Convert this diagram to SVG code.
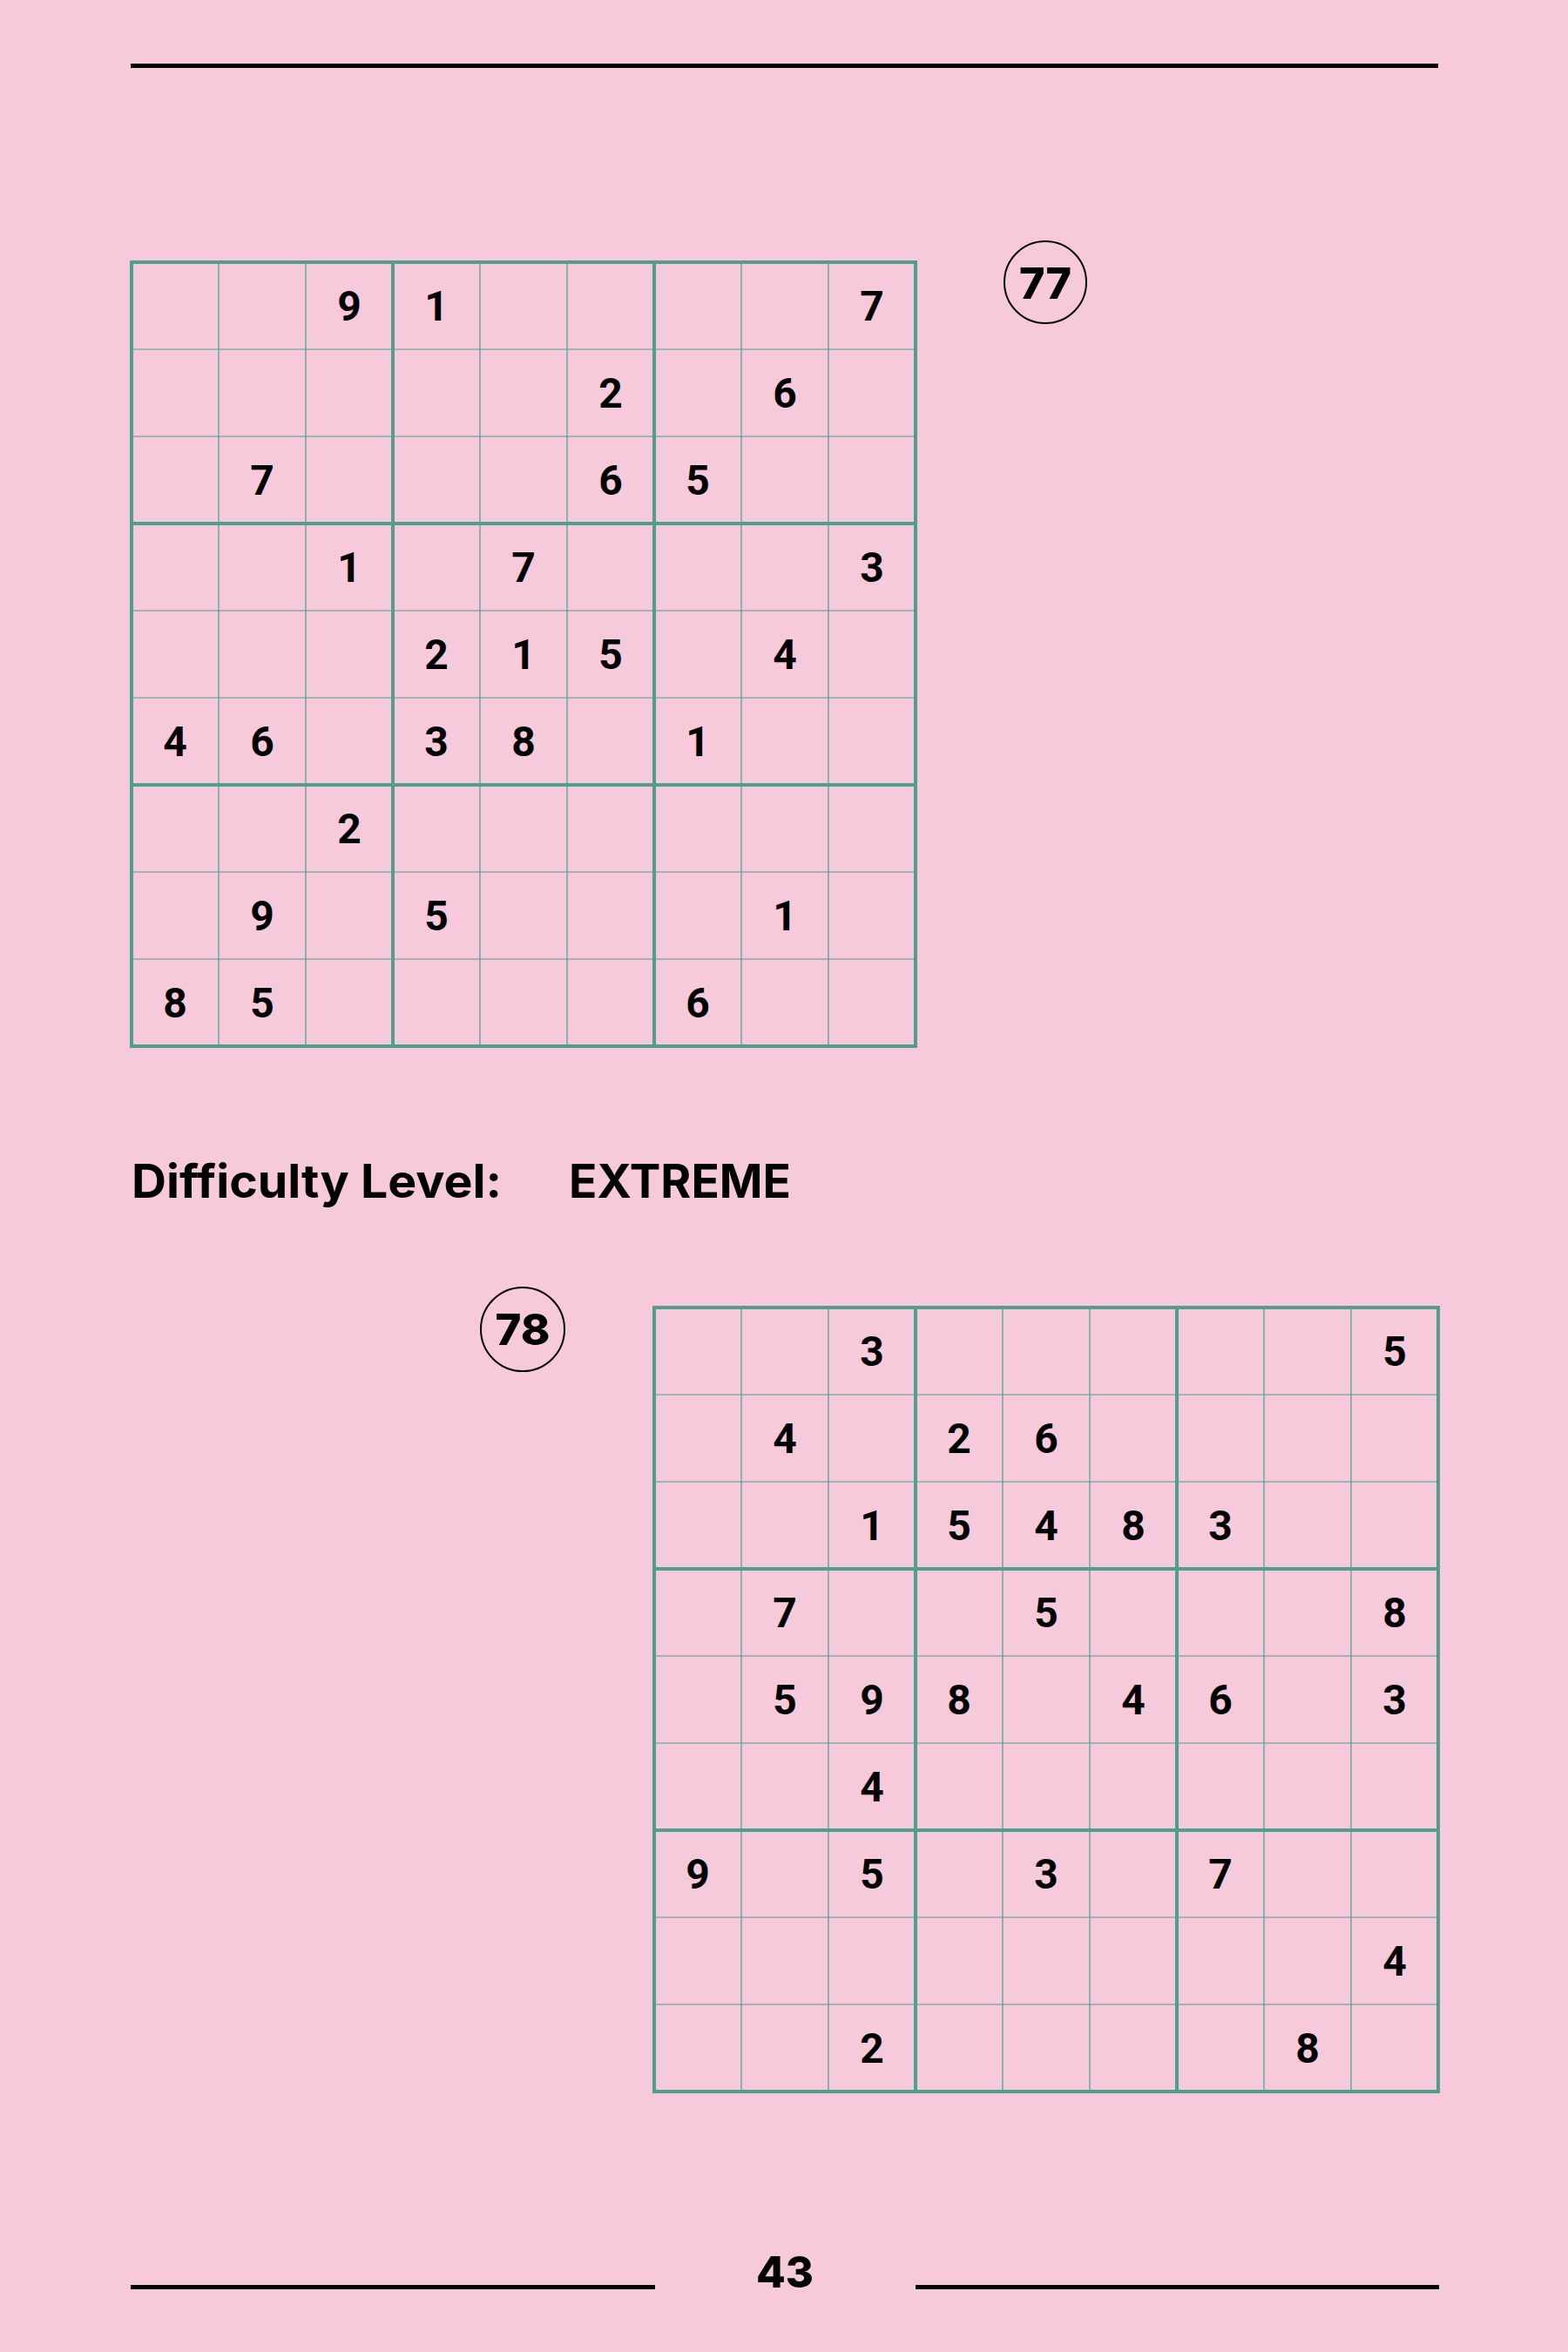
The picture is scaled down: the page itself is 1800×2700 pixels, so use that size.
<svg xmlns="http://www.w3.org/2000/svg" width="1800" height="2700" viewBox="0 0 1800 2700">
<style>
.bg{fill:#f7cadb}
.rule{stroke:#000;stroke-width:5}
.thin{stroke:#4f9e8e;stroke-width:1.2;fill:none}
.thick{stroke:#4f9e8e;stroke-width:4;fill:none}
.d{font-family:Roboto,"Liberation Sans",sans-serif;font-weight:700;font-size:48px;fill:#000;text-anchor:middle}
.h{font-family:Inter,"Liberation Sans",sans-serif;font-weight:700;fill:#000}
.num{font-family:Inter,"Liberation Sans",sans-serif;font-weight:800;font-size:50px;fill:#000;text-anchor:middle}
.ring{fill:none;stroke:#000;stroke-width:2}
</style>
<defs>
<g id="grid">
<path class="thin" d="M100 0V900M200 0V900M400 0V900M500 0V900M700 0V900M800 0V900M0 100H900M0 200H900M0 400H900M0 500H900M0 700H900M0 800H900"/>
<path class="thick" d="M300 0V900M600 0V900M0 300H900M0 600H900"/>
<rect class="thick" x="0" y="0" width="900" height="900"/>
</g>
</defs>
<rect class="bg" x="0" y="0" width="1800" height="2700"/>
<g id="header">
<line class="rule" x1="150" y1="75.5" x2="1651" y2="75.5"/>
</g>
<g id="puzzle77">
<use href="#grid" x="151" y="301"/>
<g id="digits77">
<text class="d" x="401" y="368">9</text><text class="d" x="501" y="368">1</text><text class="d" x="1001" y="368">7</text>
<text class="d" x="701" y="468">2</text><text class="d" x="901" y="468">6</text>
<text class="d" x="301" y="568">7</text><text class="d" x="701" y="568">6</text><text class="d" x="801" y="568">5</text>
<text class="d" x="401" y="668">1</text><text class="d" x="601" y="668">7</text><text class="d" x="1001" y="668">3</text>
<text class="d" x="501" y="768">2</text><text class="d" x="601" y="768">1</text><text class="d" x="701" y="768">5</text><text class="d" x="901" y="768">4</text>
<text class="d" x="201" y="868">4</text><text class="d" x="301" y="868">6</text><text class="d" x="501" y="868">3</text><text class="d" x="601" y="868">8</text><text class="d" x="801" y="868">1</text>
<text class="d" x="401" y="968">2</text>
<text class="d" x="301" y="1068">9</text><text class="d" x="501" y="1068">5</text><text class="d" x="901" y="1068">1</text>
<text class="d" x="201" y="1168">8</text><text class="d" x="301" y="1168">5</text><text class="d" x="801" y="1168">6</text>
</g>
</g>
<g id="label77">
<circle class="ring" cx="1200" cy="324" r="47"/>
<text class="num" x="1200" y="343" textLength="60" lengthAdjust="spacingAndGlyphs">77</text>
</g>
<g id="difficulty">
<text class="h" x="151" y="1375" font-size="53" textLength="425" lengthAdjust="spacingAndGlyphs">Difficulty Level:</text>
<text class="h" x="653" y="1375" font-size="53" textLength="255" lengthAdjust="spacingAndGlyphs">EXTREME</text>
</g>
<g id="label78">
<circle class="ring" cx="600" cy="1526" r="48"/>
<text class="num" x="600" y="1544" textLength="63" lengthAdjust="spacingAndGlyphs">78</text>
</g>
<g id="puzzle78">
<use href="#grid" x="751" y="1501"/>
<g id="digits78">
<text class="d" x="1001" y="1568">3</text><text class="d" x="1601" y="1568">5</text>
<text class="d" x="901" y="1668">4</text><text class="d" x="1101" y="1668">2</text><text class="d" x="1201" y="1668">6</text>
<text class="d" x="1001" y="1768">1</text><text class="d" x="1101" y="1768">5</text><text class="d" x="1201" y="1768">4</text><text class="d" x="1301" y="1768">8</text><text class="d" x="1401" y="1768">3</text>
<text class="d" x="901" y="1868">7</text><text class="d" x="1201" y="1868">5</text><text class="d" x="1601" y="1868">8</text>
<text class="d" x="901" y="1968">5</text><text class="d" x="1001" y="1968">9</text><text class="d" x="1101" y="1968">8</text><text class="d" x="1301" y="1968">4</text><text class="d" x="1401" y="1968">6</text><text class="d" x="1601" y="1968">3</text>
<text class="d" x="1001" y="2068">4</text>
<text class="d" x="801" y="2168">9</text><text class="d" x="1001" y="2168">5</text><text class="d" x="1201" y="2168">3</text><text class="d" x="1401" y="2168">7</text>
<text class="d" x="1601" y="2268">4</text>
<text class="d" x="1001" y="2368">2</text><text class="d" x="1501" y="2368">8</text>
</g>
</g>
<g id="footer">
<line class="rule" x1="150" y1="2625.5" x2="752" y2="2625.5"/>
<line class="rule" x1="1051" y1="2625.5" x2="1652" y2="2625.5"/>
<text class="num" x="901" y="2626" font-size="52" textLength="66" lengthAdjust="spacingAndGlyphs">43</text>
</g>
</svg>
